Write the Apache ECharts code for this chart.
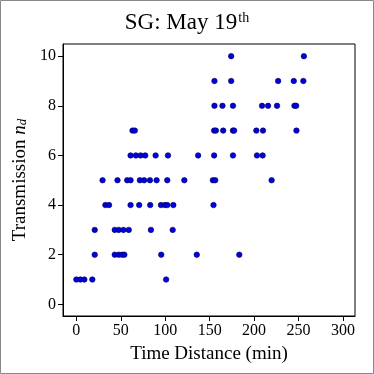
<!DOCTYPE html>
<html><head><meta charset="utf-8">
<script src="https://cdn.jsdelivr.net/npm/echarts@6/dist/echarts.min.js"></script>
<style>html,body{margin:0;padding:0;background:#fff}#c{width:374px;height:374px}</style>
</head><body><div id="c"></div>
<script>
const xTicks = [0, 50, 100, 150, 200, 250, 300];
const yTicks = [0, 2, 4, 6, 8, 10];
const y1 = [0, 4.5, 9, 18, 101];
const y2 = [20.7, 43.2, 47.7, 51.5, 54, 95.5, 135.5, 183.3];
const y3 = [20.7, 43.2, 47.7, 53, 59, 83.9, 108.4];
const y4 = [32.7, 36.8, 61, 70.7, 83.1, 95.2, 99.7, 102.3, 109.1, 154.3];
const y5 = [29.5, 46.3, 57.2, 61, 71.5, 76.3, 82.8, 90.3, 102.3, 121.5, 153.6, 156.2, 219.7];
const y6 = [61, 67, 72.3, 77.5, 89.2, 103.1, 137, 155, 176.2, 203.2, 209.6];
const y7 = [63.2, 65.8, 155, 157, 165.2, 176.2, 177.5, 202.5, 210, 247.6];
const y8 = [155.4, 164.4, 176.2, 208.9, 215.7, 225.8, 245.4, 247.3];
const y9 = [155.4, 174.2, 227, 244.6, 255.4];
const y10 = [174.2, 256];
const rows = [[1, y1], [2, y2], [3, y3], [4, y4], [5, y5], [6, y6], [7, y7], [8, y8], [9, y9], [10, y10]];
const points = [];
rows.forEach(([v, xs]) => xs.forEach(x => points.push([x, v])));

const F = 'Liberation Serif';
const chart = echarts.init(document.getElementById('c'));
chart.setOption({
  animation: false,
  title: {
    text: '{a|SG: May 19}{s|th}',
    left: 'center', top: 6,
    textStyle: { fontWeight: 'normal', rich: {
      a: { fontFamily: F, fontSize: 23, fontWeight: 'normal', color: '#000' },
      s: { fontFamily: F, fontSize: 14, fontWeight: 'normal', color: '#000', verticalAlign: 'top', padding: [0,0,10,1] }
    } }
  },
  graphic: [{ type: 'rect', shape: { x: 0.5, y: 0.5, width: 373, height: 373 }, style: { fill: 'none', stroke: '#888', lineWidth: 1 } }],
  grid: { left: 63, right: 19, top: 44, bottom: 58, show: true, borderColor: '#000', borderWidth: 1, backgroundColor: 'transparent' },
  xAxis: {
    type: 'value', min: -15, max: 313.5,
    name: 'Time Distance (min)', nameLocation: 'middle', nameGap: 29,
    nameTextStyle: { fontFamily: F, fontSize: 19, color: '#000' },
    axisLine: { show: true, onZero: false, lineStyle: { color: '#000', width: 1 } },
    axisTick: { show: true, inside: false, length: 5, customValues: xTicks, lineStyle: { color: '#000' } },
    axisLabel: { customValues: xTicks, fontFamily: F, fontSize: 16, color: '#000', margin: 7 },
    splitLine: { show: false }
  },
  yAxis: {
    type: 'value', min: -0.47, max: 10.49,
    name: '{a|Transmission }{i|n}{d|d}', nameLocation: 'middle', nameGap: 33,
    nameTextStyle: { rich: {
      a: { fontFamily: F, fontSize: 19, color: '#000' },
      i: { fontFamily: F, fontSize: 19, fontStyle: 'italic', color: '#000' },
      d: { fontFamily: F, fontSize: 13, fontStyle: 'italic', color: '#000', verticalAlign: 'bottom', padding: [6,0,0,0] }
    } },
    axisLine: { show: true, onZero: false, lineStyle: { color: '#000', width: 1 } },
    axisTick: { show: true, inside: false, length: 5, customValues: yTicks, lineStyle: { color: '#000' } },
    axisLabel: { customValues: yTicks, fontFamily: F, fontSize: 16, color: '#000', margin: 7 },
    splitLine: { show: false }
  },
  series: [{
    type: 'scatter', data: points, symbolSize: 5.5,
    itemStyle: { color: '#0000e0', borderColor: '#000050', borderWidth: 0.6, opacity: 1 }
  }]
});
</script></body></html>
